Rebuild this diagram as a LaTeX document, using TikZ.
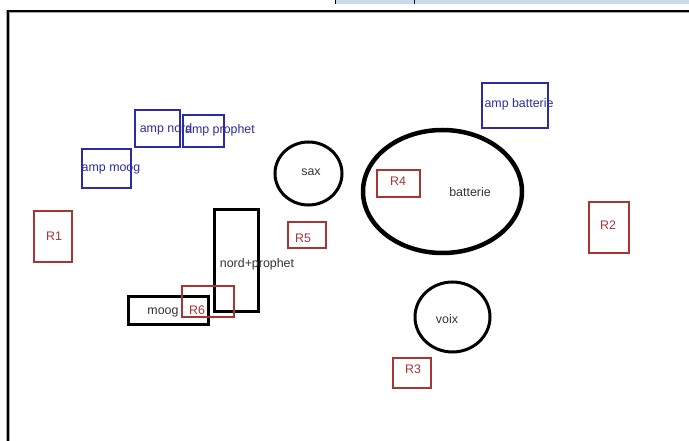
\documentclass[tikz,border=0pt]{standalone}
\usepackage{fontspec}
\setmainfont{Liberation Sans}
\usetikzlibrary{shapes.geometric}
\definecolor{ampblue}{HTML}{2B2BA6}
\definecolor{rred}{HTML}{A83434}
\definecolor{txtgray}{HTML}{333333}
\definecolor{barblue}{HTML}{C8DAEE}
\tikzset{
  lbl/.style={inner sep=0pt, yshift=-1.2pt, font=\fontsize{12.4}{14}\selectfont},
  ampbox/.style={draw=ampblue, line width=1.3pt, rectangle, inner sep=0pt},
  rbox/.style={draw=rred, line width=1.3pt, rectangle, inner sep=0pt},
  instbox/.style={draw=black, line width=3pt, rectangle, inner sep=0pt},
  instell/.style={draw=black, ellipse, inner sep=0pt},
  amptxt/.style={lbl, text=ampblue},
  rtxt/.style={lbl, text=rred},
  itxt/.style={lbl, text=txtgray},
}
\begin{document}
\begin{tikzpicture}[x=1pt,y=-1pt]
\useasboundingbox (0,0) rectangle (689,441);
% top bar
\fill[barblue] (335,0) rectangle (689,4);
\draw[line width=1pt] (335.5,0) -- (335.5,4);
\draw[line width=1pt] (414,0) -- (414,4);
% frame
\draw[black!35, line width=3.5pt] (8,441) -- (8,11.5) -- (689,11.5);
\draw[black, line width=2pt] (8,441) -- (8,11.5) -- (689,11.5);

% amps
\node[ampbox, minimum width=45, minimum height=37] (ampnord) at (157.5,128.5) {};
\node[ampbox, minimum width=41, minimum height=32] (ampprophet) at (203.5,131) {};
\node[ampbox, minimum width=49, minimum height=39] (ampmoog) at (106.5,168.5) {};
\node[ampbox, minimum width=66, minimum height=45] (ampbatt) at (515,105.5) {};
\node[amptxt] (tampnord) at (166,128) {amp nord};
\node[amptxt] (tampprophet) at (220,129) {amp prophet};
\node[amptxt] (tampmoog) at (111,168) {amp moog};
\node[amptxt] (tampbatt) at (519,103) {amp batterie};

% instruments
\node[instell, line width=3pt, minimum width=67, minimum height=63] (sax) at (308.5,173.5) {};
\node[itxt] (tsax) at (311,171) {sax};
\node[instell, line width=4.5pt, minimum width=159, minimum height=123] (batt) at (442.5,191.5) {};
\node[itxt] (tbatt) at (470,191) {batterie};
\node[instell, line width=3pt, minimum width=75, minimum height=70] (voix) at (452.5,317) {};
\node[itxt] (tvoix) at (447,318) {voix};
\node[instbox, minimum width=44, minimum height=101] (np) at (236,260.5) {};
\node[itxt] (tnp) at (257,263) {nord+prophet};
\node[instbox, minimum width=80, minimum height=28] (moog) at (168,310) {};
\node[itxt] (tmoog) at (163,311) {moog};

% R boxes
\node[rbox, minimum width=38, minimum height=51] (r1) at (53,236.5) {};
\node[rtxt] (tr1) at (54,235) {R1};
\node[rbox, minimum width=40, minimum height=51] (r2) at (609,227.5) {};
\node[rtxt] (tr2) at (608,224) {R2};
\node[rbox, minimum width=38, minimum height=30] (r3) at (412,373) {};
\node[rtxt] (tr3) at (413,368) {R3};
\node[rbox, minimum width=43, minimum height=27] (r4) at (398.5,183.5) {};
\node[rtxt] (tr4) at (398,180) {R4};
\node[rbox, minimum width=38, minimum height=26] (r5) at (307,235) {};
\node[rtxt] (tr5) at (303,237) {R5};
\node[rbox, minimum width=52, minimum height=31] (r6) at (208,301.5) {};
\node[rtxt] (tr6) at (197,309) {R6};
\end{tikzpicture}
\end{document}
